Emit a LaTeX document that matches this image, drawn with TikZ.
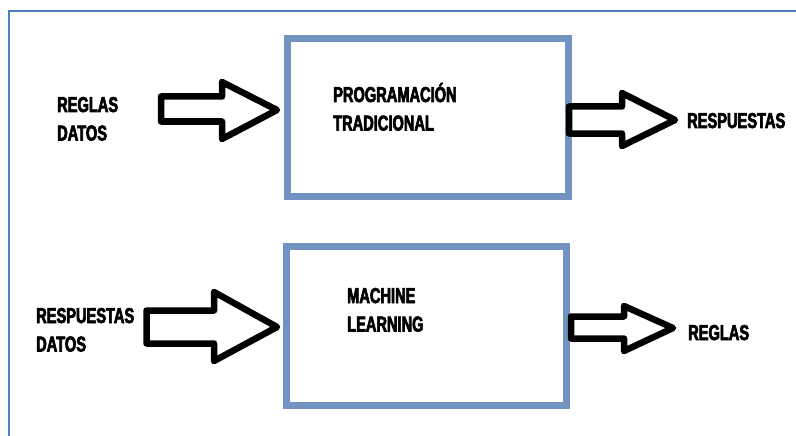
\documentclass[tikz,border=0pt]{standalone}
\usepackage{fontspec}
\newfontfamily\lblfont[UprightFont=* Bold, FakeStretch=0.68, FakeBold=3]{Liberation Sans}
\definecolor{boxblue}{RGB}{114,147,193}
\definecolor{frameblue}{RGB}{79,129,189}
% block arrow: shaft left x, shaft top y, shaft bottom y, head x, head top y, head bottom y, tip x, tip y
\newcommand{\blockarrow}[8]{%
  \draw[blockarrow] (#1,#2) -- (#4,#2) -- (#4,#5) -- (#7,#8) -- (#4,#6) -- (#4,#3) -- (#1,#3) -- cycle;}
\begin{document}
\begin{tikzpicture}[x=1pt,y=-1pt,
  frame/.style={draw=frameblue, line width=2pt},
  box/.style={draw=boxblue, line width=7pt, inner sep=0pt, fill=white},
  blockarrow/.style={draw=black, line width=6.5pt, line join=round, fill=white},
  lbl/.style={font=\lblfont\fontsize{21.5}{28.5}\selectfont, align=left, inner sep=0pt, anchor=base west}]
\useasboundingbox (0,0) rectangle (796,436);
\draw[frame] (9,437) -- (9,11) -- (797,11);

% process boxes
\node[box, minimum width=281pt, minimum height=158pt] (prog) at (428,117.5) {};
\node[box, minimum width=280pt, minimum height=159pt] (ml) at (426.5,326) {};

% block arrows
\blockarrow{161}{96.5}{121.5}{222}{82}{139}{277}{110}
\blockarrow{569}{106.5}{133.5}{622}{93}{146}{675}{120}
\blockarrow{146.5}{310.5}{343.5}{214}{292}{361}{277}{327}
\blockarrow{571}{316.5}{338.5}{624}{306}{351}{673}{328}

% labels (two-line labels are placed by the baseline of their last line)
\node[lbl] (in1) at (57,140.5) {REGLAS\\DATOS};
\node[lbl] (proglbl) at (333,130.5) {PROGRAMACIÓN\\TRADICIONAL};
\node[lbl] (out1) at (687,128) {RESPUESTAS};
\node[lbl] (in2) at (36,351.5) {RESPUESTAS\\DATOS};
\node[lbl] (mllbl) at (347,331.5) {MACHINE\\LEARNING};
\node[lbl] (out2) at (688,340) {REGLAS};
\end{tikzpicture}
\end{document}
